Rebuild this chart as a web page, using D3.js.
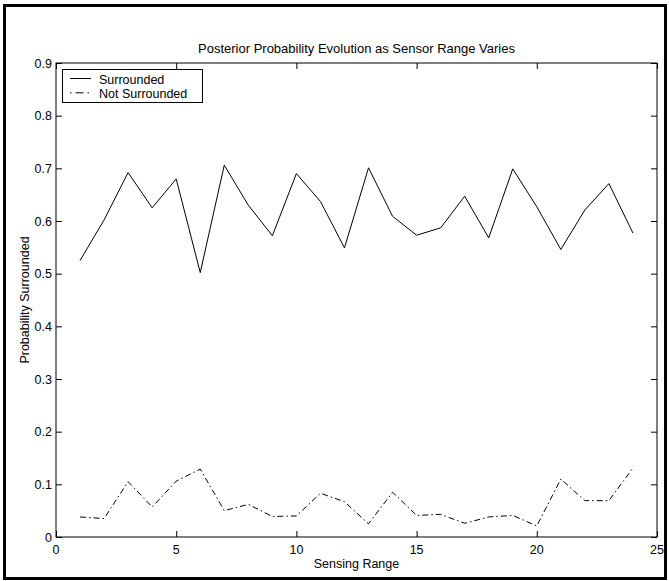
<!DOCTYPE html>
<html>
<head>
<meta http-equiv="content-type" content="text/html; charset=UTF8">
<script src="https://cdn.jsdelivr.net/npm/d3@7/dist/d3.min.js"></script>
<style>
body {
	margin: 0;
	background: #fff;
}
.chart text {
	font-family: "Liberation Sans", Arial, sans-serif;
	font-size: 12.5px;
	fill: #000;
}
</style>
</head>
<body>
<svg class="chart" width="669" height="581"></svg>
</body>
<script>
var ranges = [1, 2, 3, 4, 5, 6, 7, 8, 9, 10, 11, 12, 13, 14, 15, 16, 17, 18, 19, 20, 21, 22, 23, 24];
var surrounded = [0.525, 0.602, 0.692, 0.625, 0.680, 0.502, 0.706, 0.630, 0.572, 0.690, 0.637, 0.549,
	0.701, 0.609, 0.573, 0.587, 0.647, 0.568, 0.699, 0.627, 0.546, 0.621, 0.671, 0.577];
var notSurrounded = [0.038, 0.035, 0.105, 0.057, 0.106, 0.129, 0.050, 0.062, 0.039, 0.040, 0.083, 0.067,
	0.025, 0.085, 0.041, 0.043, 0.026, 0.038, 0.041, 0.021, 0.110, 0.069, 0.069, 0.131];
var xTicks = [0, 5, 10, 15, 20, 25];
var yTicks = [0, 0.1, 0.2, 0.3, 0.4, 0.5, 0.6, 0.7, 0.8, 0.9];
var seriesNames = ["Surrounded", "Not Surrounded"];

// plot box (window.top is taken, so use own names)
var boxLeft = 56, boxRight = 657, boxTop = 63, boxBottom = 537,
	tickLen = 6;

var svg = d3.select(".chart");

// outer frame
svg.append("rect")
	.attr("x", 4.5).attr("y", 5.5)
	.attr("width", 661).attr("height", 573)
	.attr("fill", "none")
	.attr("stroke", "#000")
	.attr("stroke-width", 3);

var x = d3.scaleLinear().domain([0, 25]).range([boxLeft, boxRight]);
var y = d3.scaleLinear().domain([0, 0.9]).range([boxBottom, boxTop]);

// axes, ticks pointing inward on all four sides (matlab style)
svg.append("g")
	.attr("transform", "translate(0," + boxBottom + ")")
	.call(d3.axisTop(x).tickValues(xTicks).tickSize(tickLen).tickFormat(""));
svg.append("g")
	.attr("transform", "translate(0," + boxTop + ")")
	.call(d3.axisBottom(x).tickValues(xTicks).tickSize(tickLen).tickFormat(""));
svg.append("g")
	.attr("transform", "translate(" + boxLeft + ",0)")
	.call(d3.axisRight(y).tickValues(yTicks).tickSize(tickLen).tickFormat(""));
svg.append("g")
	.attr("transform", "translate(" + boxRight + ",0)")
	.call(d3.axisLeft(y).tickValues(yTicks).tickSize(tickLen).tickFormat(""));
svg.selectAll(".domain").remove();
svg.selectAll(".tick line").attr("stroke", "#000");

svg.append("rect")
	.attr("x", boxLeft).attr("y", boxTop)
	.attr("width", boxRight - boxLeft).attr("height", boxBottom - boxTop)
	.attr("fill", "none")
	.attr("stroke", "#000")
	.attr("stroke-width", 1);

// tick labels
svg.selectAll(".xlab")
	.data(xTicks)
	.enter().append("text")
	.attr("x", function(d) { return x(d); })
	.attr("y", boxBottom + 17)
	.attr("text-anchor", "middle")
	.text(function(d) { return d; });

svg.selectAll(".ylab")
	.data(yTicks)
	.enter().append("text")
	.attr("x", boxLeft - 4)
	.attr("y", function(d) { return y(d) + 4.5; })
	.attr("text-anchor", "end")
	.text(function(d) { return d === 0 ? "0" : d3.format(".1f")(d); });

// titles
svg.append("text")
	.attr("x", (boxLeft + boxRight) / 2)
	.attr("y", boxTop - 10)
	.attr("text-anchor", "middle")
	.style("font-size", "13px")
	.text("Posterior Probability Evolution as Sensor Range Varies");

svg.append("text")
	.attr("x", (boxLeft + boxRight) / 2)
	.attr("y", boxBottom + 31)
	.attr("text-anchor", "middle")
	.text("Sensing Range");

svg.append("text")
	.attr("transform", "translate(29," + (boxTop + boxBottom) / 2 + ") rotate(-90)")
	.attr("text-anchor", "middle")
	.text("Probability Surrounded");

// lines
var line = d3.line()
	.x(function(d, i) { return x(ranges[i]); })
	.y(function(d) { return y(d); });

var dashes = [null, "6,3,1.5,3"];

svg.selectAll(".series")
	.data([surrounded, notSurrounded])
	.enter().append("path")
	.attr("d", line)
	.attr("fill", "none")
	.attr("stroke", "#000")
	.attr("stroke-width", 1)
	.attr("stroke-dasharray", function(d, i) { return dashes[i]; });

// legend
var legend = svg.append("g");
legend.append("rect")
	.attr("x", 62.5).attr("y", 69.5)
	.attr("width", 140).attr("height", 33)
	.attr("fill", "#fff")
	.attr("stroke", "#000")
	.attr("stroke-width", 1);

var items = legend.selectAll(".item")
	.data(seriesNames)
	.enter().append("g")
	.attr("transform", function(d, i) { return "translate(0," + (78.5 + i * 14.3) + ")"; });

items.append("line")
	.attr("x1", 70).attr("x2", 91)
	.attr("stroke", "#000")
	.attr("stroke-dasharray", function(d, i) { return i ? "1.5,4,8,4" : null; });

items.append("text")
	.attr("x", 99)
	.attr("y", 5)
	.text(function(d) { return d; });
</script>
</html>
